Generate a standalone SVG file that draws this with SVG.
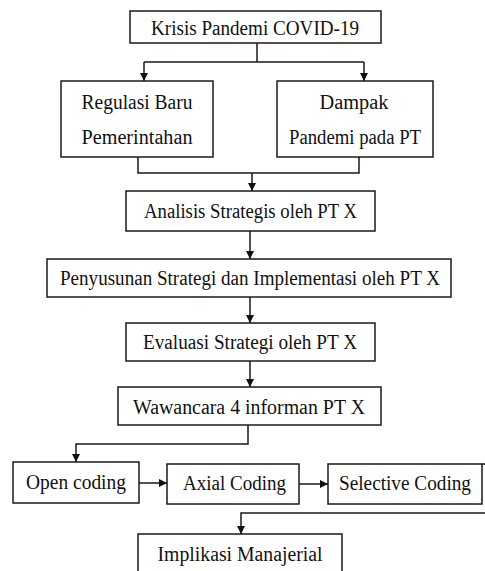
<svg xmlns="http://www.w3.org/2000/svg" width="485" height="571" viewBox="0 0 485 571">
<style>
.box{fill:#fff;stroke:#1a1a1a;stroke-width:1.5}
.t{font-family:"Liberation Serif","Times New Roman",serif;font-size:20px;fill:#111;text-anchor:middle}
.c{fill:none;stroke:#1a1a1a;stroke-width:1.5}
</style>
<defs>
<marker id="ah" markerUnits="userSpaceOnUse" markerWidth="8" markerHeight="8" refX="8" refY="4" orient="auto">
<path d="M0,0 L8,4 L0,8 z" fill="#111"/>
</marker>
</defs>
<rect width="485" height="571" fill="#fff"/>
<g id="connectors">
<path class="c" d="M257,43 V62 M144,62 H364"/>
<path class="c" d="M144,62 V81" marker-end="url(#ah)"/>
<path class="c" d="M364,62 V81" marker-end="url(#ah)"/>
<path class="c" d="M138,157 V173 H359 V157"/>
<path class="c" d="M252,173 V191" marker-end="url(#ah)"/>
<path class="c" d="M250,231 V259" marker-end="url(#ah)"/>
<path class="c" d="M250,297 V323" marker-end="url(#ah)"/>
<path class="c" d="M250,361 V387" marker-end="url(#ah)"/>
<path class="c" d="M248,425 V444 H76 V462" marker-end="url(#ah)"/>
<path class="c" d="M139,483 H167" marker-end="url(#ah)"/>
<path class="c" d="M299,484 H328" marker-end="url(#ah)"/>
<path class="c" d="M482,464 H485"/>
<path class="c" d="M485,513 H241 V534" marker-end="url(#ah)"/>
</g>
<g id="n1"><rect class="box" x="130" y="11" width="251" height="32"/><text class="t" x="255" y="35" textLength="208" lengthAdjust="spacingAndGlyphs">Krisis  Pandemi COVID-19</text></g>
<g id="n2"><rect class="box" x="61" y="81" width="152" height="76"/><text class="t" x="137" y="109" textLength="111" lengthAdjust="spacingAndGlyphs">Regulasi Baru</text><text class="t" x="137" y="144" textLength="111" lengthAdjust="spacingAndGlyphs">Pemerintahan</text></g>
<g id="n3"><rect class="box" x="277" y="81" width="156" height="76"/><text class="t" x="354" y="109" textLength="69" lengthAdjust="spacingAndGlyphs">Dampak</text><text class="t" x="355" y="144" textLength="132" lengthAdjust="spacingAndGlyphs">Pandemi pada PT</text></g>
<g id="n4"><rect class="box" x="126" y="191" width="249" height="40"/><text class="t" x="250.5" y="218" textLength="213" lengthAdjust="spacingAndGlyphs">Analisis Strategis oleh PT X</text></g>
<g id="n5"><rect class="box" x="47" y="259" width="404" height="38"/><text class="t" x="250" y="285" textLength="380" lengthAdjust="spacingAndGlyphs">Penyusunan Strategi dan Implementasi oleh PT X</text></g>
<g id="n6"><rect class="box" x="126" y="323" width="249" height="38"/><text class="t" x="250" y="349" textLength="214" lengthAdjust="spacingAndGlyphs">Evaluasi Strategi oleh PT X</text></g>
<g id="n7"><rect class="box" x="118" y="387" width="263" height="38"/><text class="t" x="249" y="414" textLength="232" lengthAdjust="spacingAndGlyphs">Wawancara 4 informan PT X</text></g>
<g id="n8"><rect class="box" x="13" y="462" width="126" height="41"/><text class="t" x="76" y="489" textLength="100" lengthAdjust="spacingAndGlyphs">Open coding</text></g>
<g id="n9"><rect class="box" x="167" y="464" width="132" height="40"/><text class="t" x="234.5" y="490" textLength="103" lengthAdjust="spacingAndGlyphs">Axial Coding</text></g>
<g id="n10"><rect class="box" x="328" y="464" width="154" height="40"/><text class="t" x="405" y="490" textLength="132" lengthAdjust="spacingAndGlyphs">Selective Coding</text></g>
<g id="n11"><rect class="box" x="138" y="534" width="204" height="45"/><text class="t" x="240" y="561" textLength="165" lengthAdjust="spacingAndGlyphs">Implikasi Manajerial</text></g>
</svg>
